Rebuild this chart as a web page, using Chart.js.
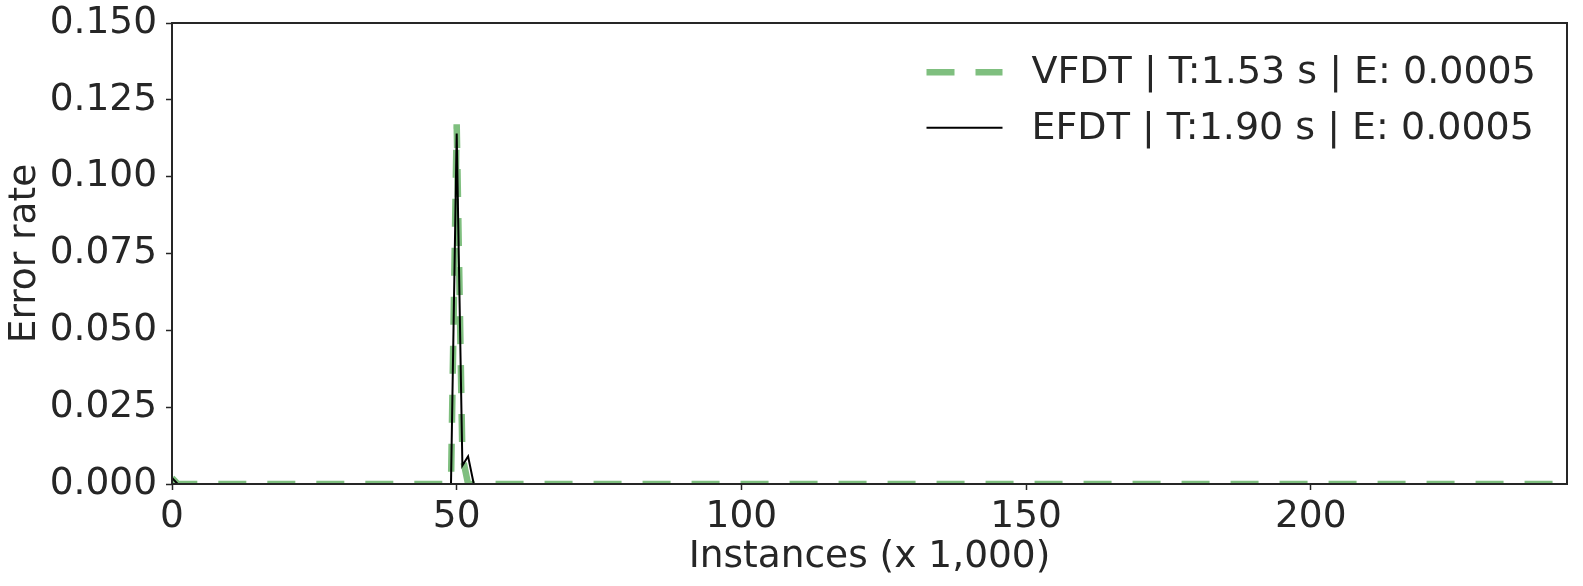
<!DOCTYPE html>
<html>
<head>
<meta charset="utf-8">
<script src="https://cdn.jsdelivr.net/npm/chart.js@4.4.1/dist/chart.umd.min.js"></script>
<style>
  html, body { margin: 0; padding: 0; background: #fff; }
  #wrap { width: 1583px; height: 586px; }
</style>
</head>
<body>
<div id="wrap"><canvas id="errorChart"></canvas></div>
<script>
// Error rate per 1,000 instances
const vfdtX = [0, 1, 49, 50, 51, 52, 245];
const vfdtY = [0.002, 0, 0, 0.117, 0.009, 0, 0];
const efdtX = [0, 1, 49, 50, 51, 52, 53, 245];
const efdtY = [0.002, 0, 0, 0.114, 0.006, 0.009, 0, 0];

const seriesLabels = ['VFDT | T:1.53 s | E: 0.0005', 'EFDT | T:1.90 s | E: 0.0005'];
const xTicks = [0, 50, 100, 150, 200];
const yTicks = [0, 0.025, 0.05, 0.075, 0.1, 0.125, 0.15];

const TEXT = '#262626';
const FONT = 'DejaVu Sans';
const SIZE = 37.5;

function toPoints(xs, ys) {
  return xs.map((x, i) => ({ x: x, y: ys[i] }));
}

// box round the plot, like the matplotlib spines
const frame = {
  id: 'frame',
  afterDatasetsDraw(chart) {
    const a = chart.chartArea;
    const c = chart.ctx;
    c.save();
    c.strokeStyle = TEXT;
    c.lineWidth = 2;
    c.strokeRect(a.left, a.top, a.right - a.left, a.bottom - a.top);
    c.restore();
  }
};

// legend drawn inside the plot, top right
const innerLegend = {
  id: 'innerLegend',
  afterDraw(chart) {
    const a = chart.chartArea;
    const c = chart.ctx;
    const x0 = a.left + 754.5;
    const rows = [a.top + 49.3, a.top + 104.7];
    c.save();
    chart.data.datasets.forEach((ds, i) => {
      const y = rows[i];
      c.beginPath();
      c.strokeStyle = ds.borderColor;
      c.lineWidth = ds.borderWidth;
      c.setLineDash(ds.borderDash || []);
      c.moveTo(x0, y);
      c.lineTo(x0 + 76, y);
      c.stroke();
      c.setLineDash([]);
      c.fillStyle = TEXT;
      c.font = '38px "' + FONT + '"';
      c.textBaseline = 'middle';
      c.fillText(ds.label, x0 + 105, y + 1);
    });
    c.restore();
  }
};

const ctx = document.getElementById('errorChart').getContext('2d');

const errorChart = new Chart(ctx, {
  type: 'line',
  data: {
    datasets: [
      {
        label: seriesLabels[0],
        data: toPoints(vfdtX, vfdtY),
        borderColor: '#7fbf7f',
        borderWidth: 6.5,
        borderDash: [28, 21],
        pointRadius: 0,
        tension: 0,
        order: 1
      },
      {
        label: seriesLabels[1],
        data: toPoints(efdtX, efdtY),
        borderColor: '#000000',
        borderWidth: 2,
        pointRadius: 0,
        tension: 0,
        order: 0
      }
    ]
  },
  options: {
    responsive: true,
    maintainAspectRatio: false,
    animation: false,
    layout: { padding: { top: 23, right: 16, left: 0, bottom: 0 } },
    plugins: {
      legend: { display: false },
      tooltip: { enabled: false }
    },
    scales: {
      x: {
        type: 'linear',
        min: 0,
        max: 245,
        afterFit(scale) {
          scale.height = 102;
          scale.paddingLeft = 0;
          scale.paddingRight = 0;
        },
        afterBuildTicks(scale) { scale.ticks = xTicks.map(v => ({ value: v })); },
        grid: { drawOnChartArea: false, drawTicks: true, tickLength: 6, color: TEXT, tickWidth: 1.5 },
        border: { display: false },
        ticks: { color: TEXT, padding: 5, maxRotation: 0, font: { family: FONT, size: SIZE } },
        title: {
          display: true,
          text: 'Instances (x 1,000)',
          color: TEXT,
          padding: { top: 0, bottom: 6 },
          font: { family: FONT, size: SIZE }
        }
      },
      y: {
        min: 0,
        max: 0.15,
        afterFit(scale) {
          scale.width = 172;
          scale.paddingTop = 0;
          scale.paddingBottom = 0;
        },
        afterBuildTicks(scale) { scale.ticks = yTicks.map(v => ({ value: v })); },
        grid: { drawOnChartArea: false, drawTicks: true, tickLength: 6, color: TEXT, tickWidth: 1.5 },
        border: { display: false },
        ticks: {
          color: TEXT,
          padding: 9,
          font: { family: FONT, size: SIZE },
          callback: v => v.toFixed(3)
        },
        title: {
          display: true,
          text: 'Error rate',
          color: TEXT,
          padding: { top: 3, bottom: 0 },
          font: { family: FONT, size: SIZE }
        }
      }
    }
  },
  plugins: [frame, innerLegend]
});
</script>
</body>
</html>
